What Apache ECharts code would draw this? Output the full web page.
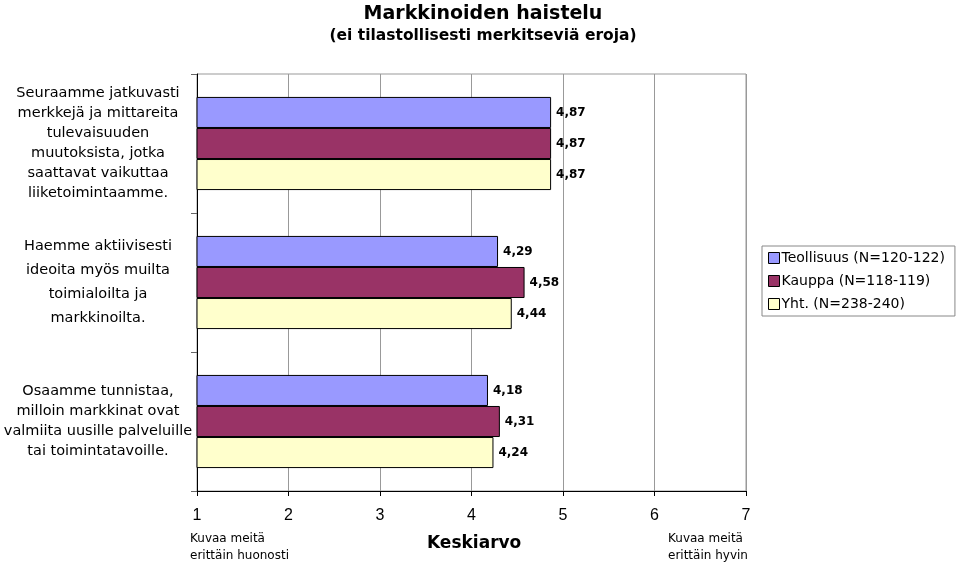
<!DOCTYPE html>
<html><head><meta charset="utf-8">
<script src="https://cdn.jsdelivr.net/npm/echarts@6/dist/echarts.min.js"></script>
<style>html,body{margin:0;padding:0;background:#fff}#c{width:960px;height:565px}</style>
</head><body><div id="c"></div>
<script>
const categories = [
  "Seuraamme jatkuvasti\nmerkkejä ja mittareita\ntulevaisuuden\nmuutoksista, jotka\nsaattavat vaikuttaa\nliiketoimintaamme.",
  "Haemme aktiivisesti\nideoita myös muilta\ntoimialoilta ja\nmarkkinoilta.",
  "Osaamme tunnistaa,\nmilloin markkinat ovat\nvalmiita uusille palveluille\ntai toimintatavoille."
];
const seriesNames = ["Teollisuus (N=120-122)", "Kauppa (N=118-119)", "Yht. (N=238-240)"];
const teollisuus = [4.87, 4.29, 4.18];
const kauppa = [4.87, 4.58, 4.31];
const yht = [4.87, 4.44, 4.24];
const xTicks = [1, 2, 3, 4, 5, 6, 7];
const colors = ["#9999FF", "#993366", "#FFFFCC"];

const font = "'DejaVu Sans', 'Liberation Sans', Arial, sans-serif";
const font2 = "'Liberation Sans', Arial, sans-serif";
const chart = echarts.init(document.getElementById('c'));
const mk = (name, data, color) => ({
  name, type: 'bar', data,
  barGap: '0%', barCategoryGap: '33%',
  itemStyle: { color, borderColor: '#000', borderWidth: 1 },
  label: {
    show: true, position: 'right', distance: 5,
    fontFamily: font, fontSize: 12, fontWeight: 'bold', color: '#000',
    formatter: p => p.value.toFixed(2).replace('.', ',')
  }
});
chart.setOption({
  animation: false,
  textStyle: { fontFamily: font },
  title: {
    text: 'Markkinoiden haistelu',
    subtext: '(ei tilastollisesti merkitseviä eroja)',
    left: 478, textAlign: 'center', top: 0, itemGap: 4,
    textStyle: { fontFamily: font, fontSize: 19, fontWeight: 'bold', color: '#000' },
    subtextStyle: { fontFamily: font, fontSize: 15.5, fontWeight: 'bold', color: '#000' }
  },
  legend: {
    orient: 'vertical', left: 762, top: 246,
    borderColor: '#888', borderWidth: 1, padding: [5, 10, 5, 6],
    itemWidth: 11, itemHeight: 11, itemGap: 9, icon: 'rect',
    textStyle: { fontFamily: font, fontSize: 14, color: '#000', padding: [0, 0, 0, -3] },
    itemStyle: { borderColor: '#000', borderWidth: 1 },
    data: seriesNames
  },
  grid: { left: 197, right: 214, top: 74, bottom: 74, show: true, borderColor: '#999', borderWidth: 1, containLabel: false, outerBoundsMode: 'none' },
  xAxis: {
    type: 'value', min: 1, max: 7, interval: 1,
    axisLine: { show: true, lineStyle: { color: '#000' } },
    axisTick: { show: true, length: 5, lineStyle: { color: '#000' } },
    axisLabel: { fontFamily: font2, fontSize: 16, color: '#000', margin: 17,
      formatter: v => xTicks.includes(v) ? String(v) : '' },
    splitLine: { show: true, lineStyle: { color: '#999' } }
  },
  yAxis: {
    type: 'category', data: categories, inverse: true,
    axisLine: { show: true, lineStyle: { color: '#000' } },
    axisTick: { show: true, length: 6, lineStyle: { color: '#666' } },
    axisLabel: {
      fontFamily: font, fontSize: 14.5, color: '#000', align: 'center', margin: 99, lineHeight: 20,
      formatter: (v, i) => i === 1 ? v.split('\n').map(l => '{b|' + l + '}').join('\n') : v,
      rich: { b: { fontFamily: font, fontSize: 14.5, color: '#000', lineHeight: 24 } }
    }
  },
  graphic: [
    { type: 'text', left: 190, top: 530, style: { text: 'Kuvaa meitä\nerittäin huonosti', font: '12px ' + font, fill: '#000', lineHeight: 17 } },
    { type: 'text', left: 427, top: 535, style: { text: 'Keskiarvo', font: 'bold 17px ' + font, fill: '#000' } },
    { type: 'text', left: 668, top: 530, style: { text: 'Kuvaa meitä\nerittäin hyvin', font: '12px ' + font, fill: '#000', lineHeight: 17 } }
  ],
  series: [mk(seriesNames[0], teollisuus, colors[0]), mk(seriesNames[1], kauppa, colors[1]), mk(seriesNames[2], yht, colors[2])]
});
</script></body></html>
